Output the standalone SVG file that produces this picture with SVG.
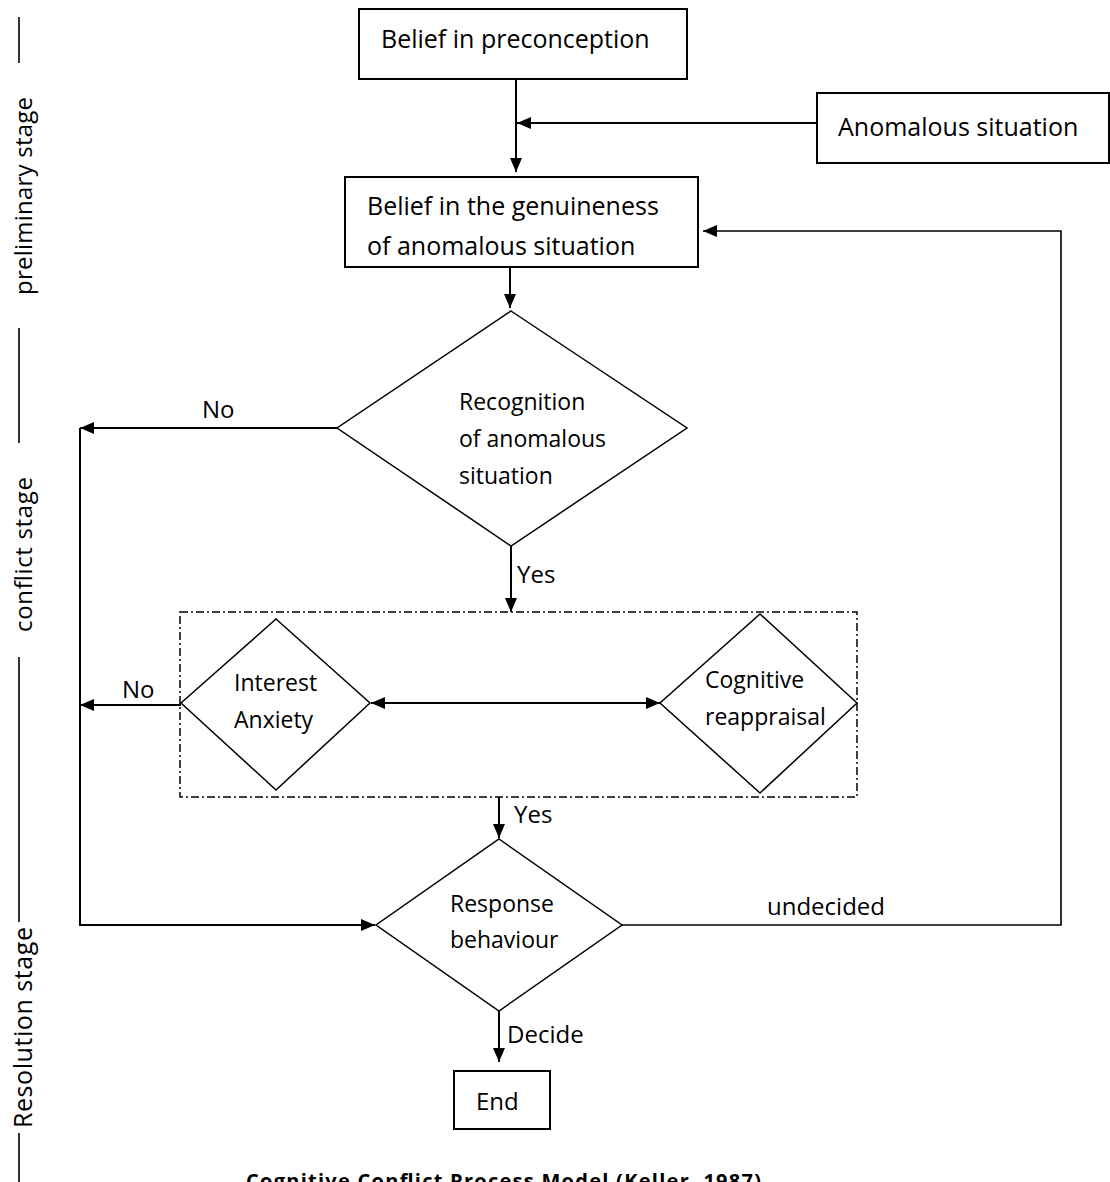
<svg xmlns="http://www.w3.org/2000/svg" width="1110" height="1182" viewBox="0 0 1110 1182">
<defs>
<marker id="ah" viewBox="0 0 14 12" refX="14" refY="6" markerWidth="14" markerHeight="12" markerUnits="userSpaceOnUse" orient="auto-start-reverse"><path d="M0,0 L14,6 L0,12 z" fill="#000"/></marker>
</defs>
<style>
.box{fill:#fff;stroke:#000;stroke-width:2}
.dia{fill:#fff;stroke:#000;stroke-width:1.5}
.dash{fill:none;stroke:#000;stroke-width:1.5;stroke-dasharray:8,3,2,3}
.t{font-family:"Open Sans","Noto Sans",sans-serif;fill:#000}
.bt{font-size:25px}
.dt{font-size:23px}
.lb{font-size:24px}
.st{font-size:24px}
.cap{font-size:20px;font-weight:bold}
.c{fill:none;stroke:#000;stroke-width:2}
.thin{stroke-width:1.6}
.sl{stroke:#000;stroke-width:1.6}
</style>
<rect x="0" y="0" width="1110" height="1182" fill="#fff"/>

<g id="stage-labels">
<line class="sl" x1="19" y1="17" x2="19" y2="63"/>
<text class="t st" transform="translate(32,295) rotate(-90)" textLength="198">preliminary stage</text>
<line class="sl" x1="19" y1="328" x2="19" y2="443"/>
<text class="t st" transform="translate(32,632) rotate(-90)" textLength="155">conflict stage</text>
<line class="sl" x1="19" y1="657" x2="19" y2="922"/>
<text class="t st" style="font-size:25px" transform="translate(32,1128) rotate(-90)" textLength="201">Resolution stage</text>
<line class="sl" x1="19" y1="1133" x2="19" y2="1182"/>
</g>

<g id="connectors">
<path class="c" d="M516,79 V172" marker-end="url(#ah)"/>
<path class="c" d="M817,123 H517" marker-end="url(#ah)"/>
<path class="c" d="M510,267 V308" marker-end="url(#ah)"/>
<path class="c" d="M337,428 H80" marker-end="url(#ah)"/>
<path class="c" d="M80,428 V925 H375" marker-end="url(#ah)"/>
<path class="c" d="M511,546 V612" marker-end="url(#ah)"/>
<path class="c" d="M181,705 H80" marker-end="url(#ah)"/>
<path class="c" d="M371,703 H660" marker-start="url(#ah)" marker-end="url(#ah)"/>
<path class="c" d="M499,797 V838" marker-end="url(#ah)"/>
<path class="c thin" d="M622,925 H1061 V231 H703" marker-end="url(#ah)"/>
<path class="c" d="M499,1011 V1062" marker-end="url(#ah)"/>
</g>

<g id="belief-preconception">
<rect class="box" x="359" y="9" width="328" height="70"/>
<text class="t bt" x="381" y="48">Belief in preconception</text>
</g>

<g id="anomalous-situation">
<rect class="box" x="817" y="93" width="292" height="70"/>
<text class="t bt" x="838" y="136">Anomalous situation</text>
</g>

<g id="belief-genuineness">
<rect class="box" x="345" y="177" width="353" height="90"/>
<text class="t bt" x="367" y="215">Belief in the genuineness</text>
<text class="t bt" x="367" y="255">of anomalous situation</text>
</g>

<g id="recognition">
<polygon class="dia" points="511,311 687,428 511,546 337,428"/>
<text class="t dt" x="459" y="410">Recognition</text>
<text class="t dt" x="459" y="447">of anomalous</text>
<text class="t dt" x="459" y="484">situation</text>
</g>

<g id="conflict-group">
<rect class="dash" x="180" y="612" width="677" height="185"/>
</g>

<g id="interest-anxiety">
<polygon class="dia" points="276,619 370,703 276,790 181,703"/>
<text class="t dt" x="234" y="691">Interest</text>
<text class="t dt" x="234" y="728">Anxiety</text>
</g>

<g id="cognitive-reappraisal">
<polygon class="dia" points="760,614 857,703 760,793 660,703"/>
<text class="t dt" x="705" y="688">Cognitive</text>
<text class="t dt" x="705" y="725">reappraisal</text>
</g>

<g id="response-behaviour">
<polygon class="dia" points="499,839 622,925 499,1011 376,925"/>
<text class="t dt" x="450" y="912">Response</text>
<text class="t dt" x="450" y="948">behaviour</text>
</g>

<g id="end">
<rect class="box" x="454" y="1071" width="96" height="58"/>
<text class="t lb" x="476" y="1110">End</text>
</g>

<g id="labels">
<text class="t lb" x="202" y="418">No</text>
<text class="t lb" x="517" y="583">Yes</text>
<text class="t lb" x="122" y="698">No</text>
<text class="t lb" x="514" y="823">Yes</text>
<text class="t lb" x="767" y="915">undecided</text>
<text class="t lb" x="507" y="1043">Decide</text>
</g>

<text class="t cap" x="246" y="1188" textLength="515">Cognitive Conflict Process Model (Keller, 1987)</text>
</svg>
